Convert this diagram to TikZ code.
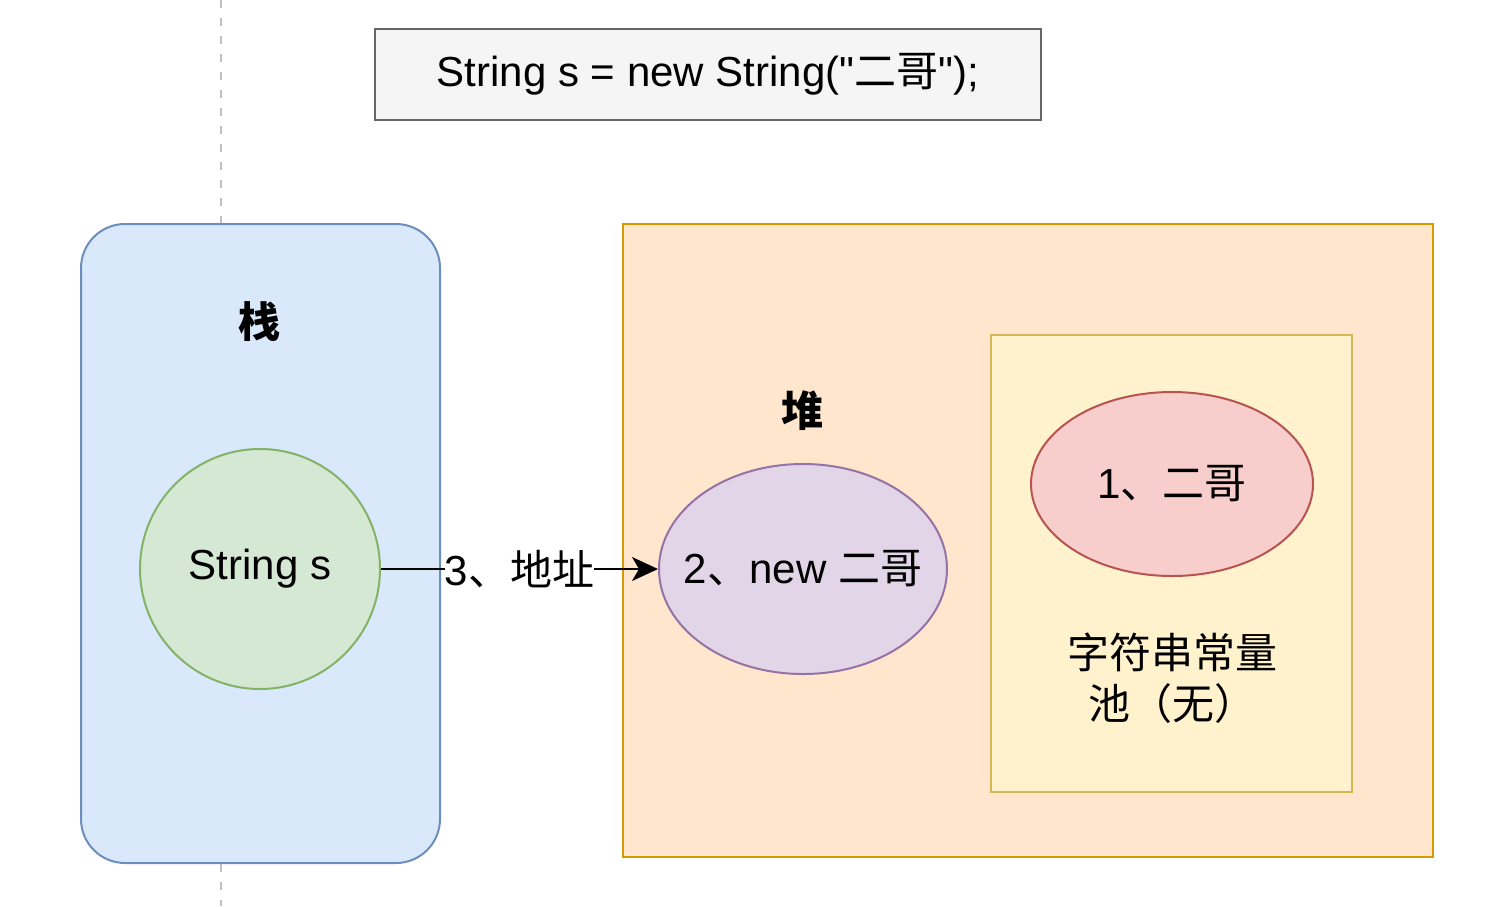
\documentclass[tikz,border=0pt]{standalone}
\usepackage{fontspec}
\setmainfont{Liberation Sans}
\newfontfamily\plainq{Liberation Sans}[Ligatures=TeXOff]
\newfontfamily\cjk{Noto Sans CJK SC}
\usetikzlibrary{arrows.meta,shapes.geometric}
\definecolor{topfill}{HTML}{F5F5F5}
\definecolor{topdraw}{HTML}{666666}
\definecolor{bluefill}{HTML}{DAE8FC}
\definecolor{bluedraw}{HTML}{6C8EBF}
\definecolor{greenfill}{HTML}{D5E8D4}
\definecolor{greendraw}{HTML}{82B366}
\definecolor{orangefill}{HTML}{FFE6CC}
\definecolor{orangedraw}{HTML}{D79B00}
\definecolor{purplefill}{HTML}{E1D5E7}
\definecolor{purpledraw}{HTML}{9673A6}
\definecolor{yellowfill}{HTML}{FFF2CC}
\definecolor{yellowdraw}{HTML}{D6B656}
\definecolor{redfill}{HTML}{F8CECC}
\definecolor{reddraw}{HTML}{B85450}
\definecolor{dashgray}{HTML}{C0C0C0}
\tikzset{
  lbl/.style={font=\fontsize{21pt}{25pt}\selectfont, text=black},
  shp/.style={line width=1pt},
}
\begin{document}
\begin{tikzpicture}[x=0.5pt,y=-0.5pt]
\useasboundingbox (0,0) rectangle (1492,906);
\coordinate (dtop) at (221,0);
\coordinate (dbot) at (221,906);
\draw[dashgray, line width=1.4pt, dash pattern=on 4pt off 5pt] (dtop) -- (dbot);

\node[shp, draw=topdraw, fill=topfill, minimum width=333pt, minimum height=45.5pt, anchor=north west, inner sep=0pt] (code) at (374,28) {};
\node[lbl] at (code.center) {String s = new String({\plainq "}{\cjk 二哥}{\plainq "});};

\draw[shp, draw=bluedraw, fill=bluefill, rounded corners=22pt] (81,224) rectangle (440,863);
\node[lbl, font=\fontsize{21pt}{25pt}\selectfont\cjk\bfseries] (stack) at (259,322) {栈};

\draw[shp, draw=orangedraw, fill=orangefill] (623,224) rectangle (1433,857);
\node[lbl, font=\fontsize{21pt}{25pt}\selectfont\cjk\bfseries] (heap) at (802,411) {堆};

\draw[shp, draw=yellowdraw, fill=yellowfill] (991,335) rectangle (1352,792);

\node[shp, draw=greendraw, fill=greenfill, circle, minimum size=120pt, inner sep=0pt] (s) at (260,569) {};
\node[lbl] at (s.center) {String s};
\node[shp, draw=purpledraw, fill=purplefill, ellipse, minimum width=144pt, minimum height=105pt, inner sep=0pt] (newobj) at (803,569) {};
\node[lbl] at (newobj.center) {2{\cjk 、}new {\cjk 二哥}};
\node[shp, draw=reddraw, fill=redfill, ellipse, minimum width=141pt, minimum height=92pt, inner sep=0pt] (pool1) at (1172,484) {};
\node[lbl] at (pool1.center) {1{\cjk 、二哥}};
\node[lbl, align=center, font=\fontsize{21pt}{25.5pt}\selectfont\cjk] (pooltxt) at (1172,678) {字符串常量\\池（无）};

\draw[line width=1pt, -{Stealth[length=13pt, width=12pt, inset=3.5pt]}] (s.east) -- node[lbl, fill=white, inner sep=0pt] {3{\cjk 、地址}} (newobj.west);
\end{tikzpicture}
\end{document}
